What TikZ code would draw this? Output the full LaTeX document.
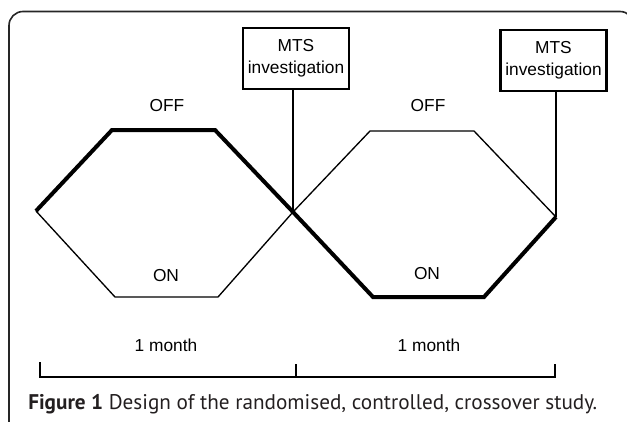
\documentclass[tikz,border=0pt]{standalone}
\usepackage{fontspec}
\setmainfont{Liberation Sans}
\newfontfamily\capfont{PT Sans}
\definecolor{capgray}{HTML}{231F20}
\begin{document}
\begin{tikzpicture}[x=0.75pt,y=-0.75pt,
  thickln/.style={line width=3pt, line join=miter},
  thinln/.style={line width=1pt, line join=miter},
  stem/.style={line width=0.8pt},
  axisln/.style={line width=1.5pt},
  lab/.style={font=\fontsize{13}{16.5}\selectfont, inner sep=0pt},
  mtsbox/.style={draw, line width=1.6pt, minimum width=79.5pt, minimum height=45.75pt,
    align=center, inner sep=0pt, font=\fontsize{13}{16.5}\selectfont}]
\useasboundingbox (0,0) rectangle (627,421);
\clip (0,0) rectangle (627,421);
% frame
\draw[line width=1.2pt, color=black!85, rounded corners=10.5pt] (9,430) -- (9,11.5) -- (634,11.5) -- (634,430);
% hexagon vertices
\coordinate (L1) at (36,211);
\coordinate (L2) at (112,130);
\coordinate (L3) at (215,130);
\coordinate (X)  at (293,212);
\coordinate (L5) at (218,297);
\coordinate (L6) at (115,297);
\coordinate (R2) at (370,131);
\coordinate (R3) at (474,131);
\coordinate (R4) at (556,217);
\coordinate (R5) at (484,297);
\coordinate (R6) at (373,297);
% thin paths
\draw[thinln] (L1) -- (L6) -- (L5) -- (X) -- (R2) -- (R3) -- (R4);
% thick path
\draw[thickln] (L1) -- (L2) -- (L3) -- (X) -- (R6) -- (R5) -- (R4);
% boxes
\node[mtsbox] (box1) at (296,58.5) {MTS\\investigation};
\node[mtsbox] (box2) at (553.5,60.5) {MTS\\investigation};
\draw[stem] (X) -- (X |- box1.south);
\draw[stem] (R4) -- (R4 |- box2.south);
% labels
\node[lab] (off1) at (167,106) {OFF};
\node[lab] (off2) at (428,106) {OFF};
\node[lab] (on1) at (166,276) {ON};
\node[lab] (on2) at (427,274) {ON};
\node[lab] (m1) at (166,345) {1 month};
\node[lab] (m2) at (429,345) {1 month};
% timeline
\coordinate (A1) at (40,377);
\coordinate (A1t) at (40,362);
\coordinate (A2) at (296,377);
\coordinate (A2t) at (296,364);
\coordinate (A3) at (555,377);
\coordinate (A3t) at (555,364);
\draw[axisln] (A1t) -- (A1) -- (A3) -- (A3t);
\draw[axisln] (A2t) -- (A2);
% caption
\node[anchor=base west, inner sep=0pt, text=capgray, font=\capfont\fontsize{15.9}{18}\selectfont] (cap) at (28,409)
  {\textbf{Figure 1} Design of the randomised, controlled, crossover study.};
\end{tikzpicture}
\end{document}
